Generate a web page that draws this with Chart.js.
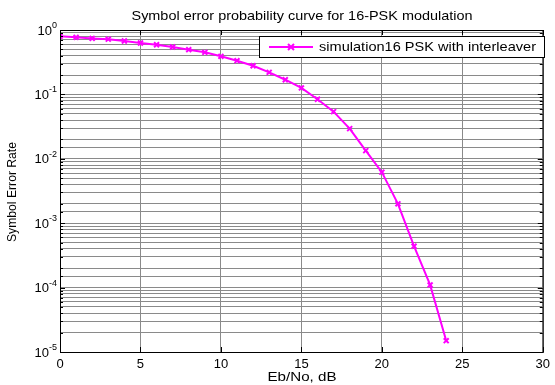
<!DOCTYPE html>
<html>
<head>
<meta charset="utf-8">
<script src="https://cdn.jsdelivr.net/npm/chart.js@4/dist/chart.umd.min.js"></script>
<style>
    html, body { margin: 0; padding: 0; background: #fff; }
    #wrap { width: 555px; height: 385px; }
</style>
</head>
<body>
<div id="wrap"><canvas id="serChart" width="555" height="385"></canvas></div>
<script>
// Data
const ebNo = [0, 1, 2, 3, 4, 5, 6, 7, 8, 9, 10, 11, 12, 13, 14, 15, 16, 17, 18, 19, 20, 21, 22, 23, 24];
const ser = [0.80, 0.77, 0.74, 0.72, 0.675, 0.628, 0.59, 0.545, 0.495, 0.45, 0.39, 0.334, 0.279, 0.22,
             0.169, 0.126, 0.084, 0.054, 0.0294, 0.0134, 0.0062, 0.0020, 0.00044, 0.00011, 0.000015];
const xTicks = [0, 5, 10, 15, 20, 25, 30];
const yDecades = [0, -1, -2, -3, -4, -5];

const titleText = 'Symbol error probability curve for 16-PSK modulation';
const xLabel = 'Eb/No, dB';
const yLabel = 'Symbol Error Rate';
const seriesName = 'simulation16 PSK with interleaver';
const lineColor = '#ff00ff';
const gridColor = '#8a8a8a';
const FONT = 'Arial, "Liberation Sans", sans-serif';

// text squeezed/stretched horizontally to a given width (reference text is a bit wide)
function fitText(ctx, text, x, y, width, align) {
    const w = ctx.measureText(text).width;
    const k = width / w;
    ctx.save();
    let x0 = x;
    if (align === 'center') x0 = x - width / 2;
    ctx.translate(x0, y);
    ctx.scale(k, 1);
    ctx.textAlign = 'left';
    ctx.fillText(text, 0, 0);
    ctx.restore();
}

// Titles, superscript tick labels, inner tick marks, box and legend
const matlabLook = {
    id: 'matlabLook',
    afterDraw(chart) {
        const ctx = chart.ctx;
        const area = chart.chartArea;
        const xs = chart.scales.x;
        const ys = chart.scales.y;
        ctx.save();

        // box
        ctx.strokeStyle = '#000';
        ctx.lineWidth = 1;
        ctx.strokeRect(area.left + 0.5, area.top + 0.5, area.right - area.left, area.bottom - area.top);

        // inner tick marks
        ctx.beginPath();
        xTicks.forEach(v => {
            const px = Math.round(xs.getPixelForValue(v)) + 0.5;
            ctx.moveTo(px, area.bottom); ctx.lineTo(px, area.bottom - 5);
            ctx.moveTo(px, area.top); ctx.lineTo(px, area.top + 5);
        });
        ys.ticks.forEach(t => {
            const py = Math.round(ys.getPixelForValue(t.value)) + 0.5;
            const major = Math.abs(Math.log10(t.value) - Math.round(Math.log10(t.value))) < 1e-6;
            const len = major ? 5 : 3;
            ctx.moveTo(area.left, py); ctx.lineTo(area.left + len, py);
            ctx.moveTo(area.right, py); ctx.lineTo(area.right - len, py);
        });
        ctx.stroke();

        ctx.fillStyle = '#000';

        // y tick labels 10^n
        yDecades.forEach(e => {
            const py = ys.getPixelForValue(Math.pow(10, e));
            const exp = String(e);
            ctx.font = '9px ' + FONT;
            const ew = ctx.measureText(exp).width;
            const right = area.left - 3;
            ctx.textAlign = 'left';
            ctx.textBaseline = 'alphabetic';
            ctx.fillText(exp, right - ew, py - 2);
            ctx.font = '13px ' + FONT;
            ctx.textAlign = 'right';
            ctx.textBaseline = 'middle';
            ctx.fillText('10', right - ew, py + 1);
        });

        // title
        ctx.font = '13px ' + FONT;
        ctx.textBaseline = 'middle';
        fitText(ctx, titleText, 302, 16, 341, 'center');

        // x axis label
        fitText(ctx, xLabel, 302, 377, 69, 'center');

        // y axis label
        ctx.save();
        ctx.translate(12, 192);
        ctx.rotate(-Math.PI / 2);
        fitText(ctx, yLabel, 0, 0, 100, 'center');
        ctx.restore();

        // legend
        const lx = 259, ly = 36, lw = 285, lh = 21;
        ctx.fillStyle = '#fff';
        ctx.fillRect(lx, ly, lw, lh);
        ctx.strokeStyle = '#000';
        ctx.lineWidth = 1;
        ctx.strokeRect(lx + 0.5, ly + 0.5, lw, lh);
        const cy = ly + lh / 2 + 0.5;
        ctx.strokeStyle = lineColor;
        ctx.lineWidth = 2;
        ctx.beginPath();
        ctx.moveTo(269, cy); ctx.lineTo(313, cy);
        ctx.moveTo(288, cy - 3); ctx.lineTo(294, cy + 3);
        ctx.moveTo(288, cy + 3); ctx.lineTo(294, cy - 3);
        ctx.stroke();
        ctx.fillStyle = '#000';
        ctx.font = '13px ' + FONT;
        ctx.textBaseline = 'middle';
        fitText(ctx, seriesName, 319, cy, 217, 'left');

        ctx.restore();
    }
};

document.addEventListener('DOMContentLoaded', () => {
    const ctx = document.getElementById('serChart').getContext('2d');
    new Chart(ctx, {
        type: 'line',
        data: {
            datasets: [{
                label: seriesName,
                data: ebNo.map((x, i) => ({ x: x, y: ser[i] })),
                borderColor: lineColor,
                backgroundColor: lineColor,
                borderWidth: 2,
                pointStyle: 'crossRot',
                pointRadius: 3.5,
                pointBorderWidth: 2,
                pointHoverRadius: 3.5,
                tension: 0,
                fill: false
            }]
        },
        options: {
            responsive: false,
            animation: false,
            events: [],
            layout: { padding: { top: 30, right: 5, left: 0, bottom: 0 } },
            plugins: {
                legend: { display: false },
                title: { display: false },
                tooltip: { enabled: false }
            },
            scales: {
                x: {
                    type: 'linear',
                    min: 0,
                    max: 30,
                    afterFit: scale => { scale.height = 33; },
                    afterBuildTicks: scale => { scale.ticks = xTicks.map(v => ({ value: v })); },
                    ticks: {
                        color: '#000',
                        font: { family: FONT, size: 13 },
                        padding: 5,
                        maxRotation: 0,
                        autoSkip: false
                    },
                    grid: {
                        color: gridColor,
                        lineWidth: 1,
                        drawTicks: false
                    },
                    border: { display: false }
                },
                y: {
                    type: 'logarithmic',
                    min: 1e-5,
                    max: 1,
                    afterFit: scale => { scale.width = 60; },
                    ticks: { display: false, autoSkip: false },
                    grid: {
                        color: gridColor,
                        lineWidth: 1,
                        drawTicks: false
                    },
                    border: { display: false }
                }
            }
        },
        plugins: [matlabLook]
    });
});
</script>
</body>
</html>
